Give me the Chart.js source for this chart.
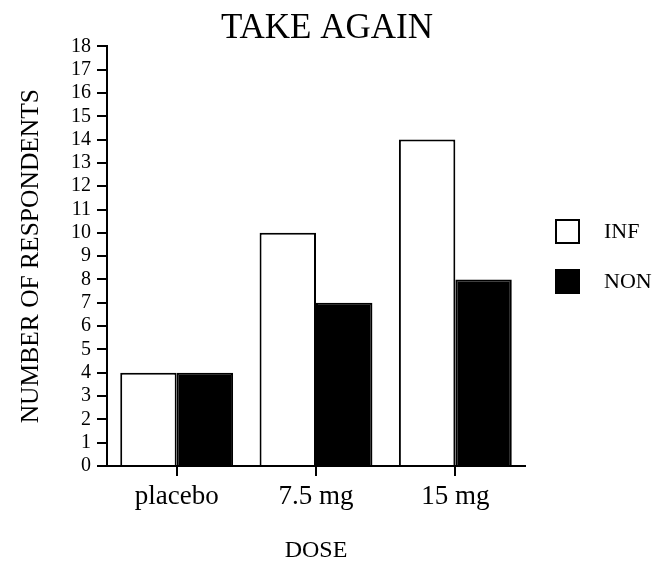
<!DOCTYPE html>
<html>
<head>
<meta charset="utf-8">
<script src="https://cdn.jsdelivr.net/npm/chart.js@4/dist/chart.umd.min.js"></script>
<style>
html,body{margin:0;padding:0;background:#fff;}
#wrap{width:666px;height:563px;}
</style>
</head>
<body>
<div id="wrap"><canvas id="c" width="666" height="563"></canvas></div>
<script>
const categories = ['placebo', '7.5 mg', '15 mg'];
const infValues = [4, 10, 14];
const nonValues = [4, 7, 8];
const seriesNames = ['INF', 'NON'];
const yMin = 0, yMax = 18, yStep = 1;

const SERIF = '"Liberation Serif", "Times New Roman", serif';

const customLegend = {
  id: 'customLegend',
  afterDraw(chart) {
    const ctx = chart.ctx;
    const ca = chart.chartArea;
    const x0 = ca.right + 31;
    const yStart = 220;
    const gap = 50;
    const size = 23;
    ctx.save();
    chart.data.datasets.forEach((ds, i) => {
      const y = yStart + i * gap;
      ctx.fillStyle = ds.backgroundColor;
      ctx.fillRect(x0, y, size, size);
      ctx.lineWidth = 2;
      ctx.strokeStyle = '#000';
      ctx.strokeRect(x0, y, size, size);
      ctx.fillStyle = '#000';
      ctx.font = '22px ' + SERIF;
      ctx.textBaseline = 'middle';
      ctx.textAlign = 'left';
      ctx.fillText(ds.label, x0 + 48, y + size / 2 + 1);
    });
    ctx.restore();
  }
};

new Chart(document.getElementById('c'), {
  type: 'bar',
  data: {
    labels: categories,
    datasets: [
      { label: seriesNames[0], data: infValues, backgroundColor: '#ffffff', borderColor: '#000000', borderWidth: 2 },
      { label: seriesNames[1], data: nonValues, backgroundColor: '#000000', borderColor: '#000000', borderWidth: 2 }
    ]
  },
  options: {
    responsive: false,
    animation: false,
    layout: { padding: { left: 0, right: 12, top: 0, bottom: 0 } },
    categoryPercentage: 0.81,
    barPercentage: 1.0,
    plugins: {
      legend: { display: false },
      tooltip: { enabled: false },
      title: {
        display: true,
        text: 'TAKE AGAIN',
        color: '#000',
        font: { family: SERIF, size: 35, weight: 'normal', lineHeight: 0.98 },
        padding: { top: 12, bottom: 0 }
      }
    },
    scales: {
      x: {
        afterFit(s) { s.height = 97; },
        grid: { display: true, drawOnChartArea: false, offset: false, tickLength: 10, color: '#000', lineWidth: 2 },
        border: { display: true, color: '#000', width: 2 },
        ticks: { color: '#000', font: { family: SERIF, size: 27 }, padding: 5, maxRotation: 0 },
        title: { display: true, text: 'DOSE', color: '#000', font: { family: SERIF, size: 24, lineHeight: 1 }, padding: { top: 0, bottom: 0 } }
      },
      y: {
        min: yMin, max: yMax,
        afterFit(s) { s.width = 107; },
        grid: { display: true, drawOnChartArea: false, tickLength: 10, color: '#000', lineWidth: 2 },
        border: { display: true, color: '#000', width: 2 },
        ticks: { stepSize: yStep, autoSkip: false, color: '#000', font: { family: SERIF, size: 20 }, padding: 6 },
        title: { display: true, text: 'NUMBER OF RESPONDENTS', color: '#000', font: { family: SERIF, size: 25.5, lineHeight: 1 }, padding: { top: 19, bottom: 0 } }
      },
      space: {
        position: 'right',
        display: true,
        afterFit(s) { s.width = 129; },
        grid: { display: false },
        border: { display: false },
        ticks: { display: false },
        title: { display: false }
      }
    }
  },
  plugins: [customLegend]
});
</script>
</body>
</html>
